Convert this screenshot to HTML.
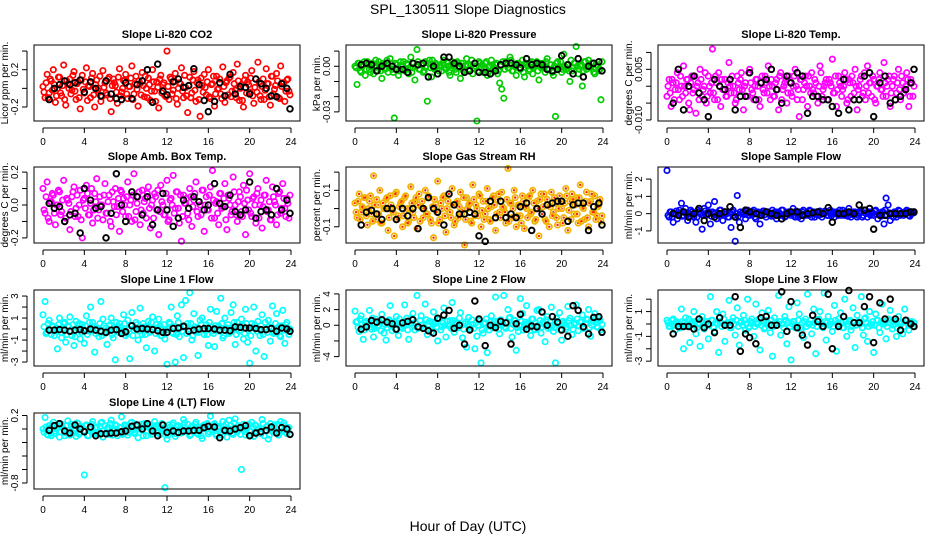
<!DOCTYPE html>
<html><head><meta charset="utf-8"><style>
html,body{margin:0;padding:0;background:#fff;}
svg{display:block;font-family:"Liberation Sans",sans-serif;}
</style></head><body>
<svg id="chart" width="936" height="540" viewBox="0 0 936 540" xmlns="http://www.w3.org/2000/svg">
<rect width="936" height="540" fill="#fff"/>
<text x="468" y="14" text-anchor="middle" font-size="14">SPL_130511  Slope Diagnostics</text>
<text x="468" y="531" text-anchor="middle" font-size="14">Hour of Day (UTC)</text>
</svg>
<script>
const hours=[0,0.2,0.4,0.6,0.8,1,1.2,1.4,1.6,1.8,2,2.2,2.4,2.6,2.8,3,3.2,3.4,3.6,3.8,4,4.2,4.4,4.6,4.8,5,5.2,5.4,5.6,5.8,6,6.2,6.4,6.6,6.8,7,7.2,7.4,7.6,7.8,8,8.2,8.4,8.6,8.8,9,9.2,9.4,9.6,9.8,10,10.2,10.4,10.6,10.8,11,11.2,11.4,11.6,11.8,12,12.2,12.4,12.6,12.8,13,13.2,13.4,13.6,13.8,14,14.2,14.4,14.6,14.8,15,15.2,15.4,15.6,15.8,16,16.2,16.4,16.6,16.8,17,17.2,17.4,17.6,17.8,18,18.2,18.4,18.6,18.8,19,19.2,19.4,19.6,19.8,20,20.2,20.4,20.6,20.8,21,21.2,21.4,21.6,21.8,22,22.2,22.4,22.6,22.8,23,23.2,23.4,23.6,23.8];
const hours2=[0.1,0.3,0.5,0.7,0.9,1.1,1.3,1.5,1.7,1.9,2.1,2.3,2.5,2.7,2.9,3.1,3.3,3.5,3.7,3.9,4.1,4.3,4.5,4.7,4.9,5.1,5.3,5.5,5.7,5.9,6.1,6.3,6.5,6.7,6.9,7.1,7.3,7.5,7.7,7.9,8.1,8.3,8.5,8.7,8.9,9.1,9.3,9.5,9.7,9.9,10.1,10.3,10.5,10.7,10.9,11.1,11.3,11.5,11.7,11.9,12.1,12.3,12.5,12.7,12.9,13.1,13.3,13.5,13.7,13.9,14.1,14.3,14.5,14.7,14.9,15.1,15.3,15.5,15.7,15.9,16.1,16.3,16.5,16.7,16.9,17.1,17.3,17.5,17.7,17.9,18.1,18.3,18.5,18.7,18.9,19.1,19.3,19.5,19.7,19.9,20.1,20.3,20.5,20.7,20.9,21.1,21.3,21.5,21.7,21.9,22.1,22.3,22.5,22.7,22.9,23.1,23.3,23.5,23.7,23.9];
const blackHours=[0.6,1.1,1.6,2.1,2.6,3.1,3.6,4.0,4.6,5.1,5.6,6.1,6.6,7.1,7.6,8.0,8.6,9.1,9.6,10.1,10.6,11.1,11.6,12.0,12.6,13.1,13.6,14.1,14.6,15.1,15.6,16.0,16.6,17.1,17.6,18.1,18.6,19.1,19.6,20.0,20.6,21.1,21.6,22.1,22.6,23.1,23.6,23.9];
const xTicks=[0,4,8,12,16,20,24];

const co2=[.02,-.1,.15,-.05,.08,.2,-.15,.0,.12,-.08,.25,-.18,.05,.1,-.02,.18,-.12,.07,-.22,.14,-.05,.22,.03,-.1,.16,-.2,.09,.0,-.14,.19,.06,-.07,.12,-.25,.1,.03,-.16,.21,-.04,.08,.15,-.11,.02,.24,-.06,.13,-.19,.05,.17,-.09,.0,.11,-.13,.2,-.03,.07,-.21,.14,.04,-.08,.4,-.12,.1,-.02,.16,-.17,.06,.22,-.1,.01,-.26,.12,-.05,.18,-.14,.09,-.3,.03,.15,-.07,.2,-.11,.05,-.19,.13,.0,-.06,.23,-.15,.08,.11,-.09,.17,-.02,.26,-.13,.04,-.2,.14,.07,-.04,.19,-.16,.1,.28,-.08,.02,-.12,.21,.05,-.18,.13,-.01,.16,-.1,.24,.06,-.14,.09,-.03];
const co2B=[-.04,.06,-.1,.1,-.02,.04,-.08,.12,-.05,.03,-.12,.08,.0,-.06,.14,-.03,.05,-.1,.09,-.01,.07,-.13,.02,.11,-.07,.04,-.02,.13,-.09,.01,-.05,.1,-.11,.03,.06,-.04,.12,-.08,.0,.09,-.06,.02,.11,-.12,.05,-.01,.08,-.07,.03,.13,-.1,.04,-.03,.07,-.14,.01,.1,-.05,.06,-.09,.02,.12,-.06,.08,-.11,.0,.05,-.03,.14,-.08,.03,-.1,.09,-.02,.06,-.12,.11,-.04,.01,.07,-.09,.04,.13,-.06,-.01,.1,-.11,.02,.06,-.07,.12,-.03,.05,-.1,.08,.0,-.13,.09,-.05,.04,.11,-.08,.01,-.04,.07,-.12,.1,-.02,.05,-.09,.13,-.06,.03,.08,-.11,.02,.06,-.03,.1,-.07];
const co2Avg=[-.12,.0,.04,.08,.04,.06,.09,-.04,.07,.0,-.08,.08,-.06,-.11,-.12,.06,-.11,.04,.08,.2,-.15,.26,-.03,-.07,.07,.1,.01,.03,.21,.04,-.13,-.25,-.14,.06,-.08,.15,-.06,.02,.01,-.06,.1,.05,.0,-.08,-.09,.05,.0,-.22];
const pres=[0,-.012,.002,-.004,.001,-.006,.003,-.002,.0,-.005,.004,-.003,.001,-.008,.002,-.001,-.004,.005,-.002,-.034,.001,-.006,.003,.0,-.003,.002,-.005,.006,-.001,-.009,.011,-.002,.001,-.004,.003,-.023,.004,-.007,-.001,.002,-.005,.001,-.003,.004,-.002,.0,-.006,.003,.001,-.004,.002,-.008,.0,-.002,.005,-.003,.001,-.005,.002,-.036,.003,-.001,-.004,.002,-.006,.0,.004,-.002,.001,-.005,-.011,-.015,-.021,.003,-.001,.006,-.003,.0,-.006,.002,-.002,.004,-.007,.001,-.003,.002,-.005,.0,.003,-.009,-.001,.002,-.004,.005,-.002,.001,-.006,-.033,.003,.0,-.004,.008,-.002,.001,-.01,-.003,.002,.013,-.005,.0,-.013,.003,-.002,.004,-.001,.002,-.005,.001,-.003,-.022];
const presB=[-.001,.002,-.003,.0,.003,-.002,.001,-.004,.002,-.001,.0,.003,-.003,.001,-.002,.004,-.001,.0,-.004,.002,.001,-.003,.0,.003,-.002,.001,-.001,-.004,.002,.0,.003,-.002,.001,-.003,.0,.002,-.001,.004,-.002,.001,-.003,.0,.002,-.001,.003,-.004,.001,.0,-.002,.003,-.001,.002,-.003,.0,.001,-.002,.004,-.001,.0,-.003,.002,.001,-.002,.003,-.004,.0,.001,-.001,.002,-.003,.0,.003,-.002,.001,-.001,.004,-.003,.0,.002,-.001,.001,-.004,.002,.0,-.002,.003,-.001,.001,-.003,.002,.0,-.001,.003,-.002,.001,-.004,.0,.002,-.001,.003,-.002,.0,.001,-.003,.004,-.001,.002,.0,-.002,.001,-.003,.003,.0,-.001,.002,-.004,.001,.0,-.002,.003];
const presAvg=[.001,.002,.001,-.003,.0,.002,.0,-.002,-.002,-.004,.002,.001,.002,-.007,.0,-.005,.006,.006,.002,.0,-.004,-.003,.002,-.004,-.004,-.005,-.003,.001,.002,.002,.001,-.001,.005,.001,.002,.001,-.002,-.003,-.002,.007,.001,-.005,.005,-.007,.0,.002,.003,-.003];
const temp=[-.003,.002,-.006,.001,-.001,.004,-.004,.0,.006,-.002,.002,-.007,.003,-.001,-.008,.001,.005,-.003,.0,-.005,.003,-.002,.011,-.004,.001,.004,-.006,-.001,.002,-.003,.007,-.002,.0,-.005,.003,-.001,.004,-.007,.001,-.003,.005,-.001,-.004,.002,.0,-.006,.003,-.002,.001,.006,-.004,.0,-.003,.002,-.007,.004,-.001,.001,-.005,.003,-.002,.0,.005,-.004,-.009,.002,-.001,.003,-.006,.0,.004,-.002,.001,-.005,.006,-.003,.0,.002,-.004,.001,.008,-.002,-.006,.003,.0,-.001,.004,-.005,.002,-.003,.001,.005,-.007,.0,.003,-.002,-.004,.006,.001,-.003,.002,-.005,.0,.004,-.001,.007,-.003,.002,-.006,.0,.003,-.002,.005,-.004,.001,-.001,.004,-.006,.002,-.003];
const tempB=[.0,-.002,.002,-.004,.001,-.001,.003,-.003,.0,.002,-.005,.001,-.002,.003,.0,-.004,.002,-.001,.004,-.003,.0,.001,-.002,.003,-.004,.0,.002,-.001,-.003,.001,.0,.003,-.002,-.004,.001,.002,-.001,.0,-.003,.004,.001,-.002,.0,.002,-.004,.001,-.001,.003,-.002,.0,.002,-.003,.001,-.001,.003,-.004,.0,.002,-.002,.001,-.003,.003,.0,-.001,.002,-.004,.001,.0,.003,-.002,-.001,.002,-.003,.0,.004,-.001,.001,-.004,.002,.0,-.002,.003,-.001,.001,-.003,.0,.002,-.004,.001,.003,-.002,.0,-.001,.002,-.003,.004,.0,-.002,.001,.003,-.004,.0,.002,-.001,-.003,.001,.0,.003,-.002,.002,-.004,.001,-.001,.003,-.002,.0,.002,-.003,.001,.0];
const tempAvg=[-.005,.005,-.007,.0,.003,-.002,-.004,-.009,.002,.0,-.001,.002,-.007,-.003,-.003,.004,-.004,.001,.002,.005,-.001,-.005,.003,.001,.004,.003,-.008,-.003,-.003,-.004,-.004,-.006,-.008,.002,-.007,-.004,-.004,.003,.004,-.009,.001,.003,-.005,-.004,-.003,-.001,.001,.005];
const box=[.1,-.05,.14,-.1,.02,.06,-.12,.0,.08,-.04,.15,-.08,.03,-.15,.05,.11,-.02,-.07,.09,-.2,.04,.12,-.06,.01,-.11,.07,.16,-.03,.0,-.09,.13,-.05,.06,-.13,.02,.1,-.01,-.16,.08,.04,-.07,.14,.0,-.1,.19,-.04,.05,-.12,.09,.02,-.08,.11,-.14,.03,.07,-.03,-.18,.12,.0,-.06,.15,-.09,.04,.18,-.02,.08,-.11,-.22,.06,.01,-.05,.1,-.13,.03,.14,-.07,.0,.09,-.16,.05,-.03,.11,.21,-.08,.02,-.12,.07,-.01,.13,-.15,.04,-.06,.17,.0,-.1,.08,-.04,.12,-.18,.03,.19,-.07,.05,-.11,.1,.0,-.14,.06,.15,-.03,-.09,.11,.02,-.12,.07,-.05,.13,-.02,.04,-.08];
const boxB=[-.03,.05,-.08,.02,.07,-.05,.0,.09,-.06,.03,-.1,.04,.01,-.04,.08,-.07,.06,.0,-.09,.03,-.02,.07,-.06,.1,-.03,.02,-.08,.05,.0,.06,-.05,.02,-.1,.08,-.01,-.06,.04,.09,-.04,.0,.05,-.07,.03,.06,-.09,.01,.08,-.03,-.05,.04,.07,-.02,.0,-.08,.05,.09,-.04,.02,-.06,.07,-.1,.03,.0,-.05,.08,-.02,.06,-.07,.01,.04,-.09,.05,-.01,.07,-.04,.02,-.06,.09,.0,-.03,.06,-.08,.03,.01,-.05,.07,-.02,.04,-.09,.06,.0,-.04,.08,-.06,.02,.05,-.07,.01,.09,-.03,-.05,.04,.0,.07,-.08,.03,-.01,.06,-.04,.02,-.09,.05,.0,-.06,.08,-.02,.04,-.07,.01,.06];
const boxAvg=[.01,-.02,-.01,-.1,-.06,-.05,-.17,.1,.03,-.02,-.01,-.2,-.05,.19,.0,-.1,.08,.05,-.06,.05,-.12,-.03,.07,-.03,-.13,-.08,.03,-.02,.05,.02,-.03,.0,.13,.01,-.01,.06,-.04,-.06,-.03,.14,-.08,-.04,-.03,-.06,.1,-.03,.03,-.05];
const rh=[.03,-.05,.08,-.02,.0,.06,-.09,.04,-.03,.18,-.06,.02,.1,-.08,.0,.05,-.12,.07,-.01,-.15,.09,-.04,.03,-.1,.06,.0,-.07,.12,-.02,.04,-.11,.08,.01,-.05,.1,-.03,.06,-.08,-.16,.02,.15,-.06,.0,.07,-.13,.04,-.02,.11,-.09,.03,-.05,.09,-.01,-.2,.06,.02,-.07,.13,-.04,.0,.08,-.1,.04,-.03,.11,-.06,.01,.07,-.12,.05,-.02,.09,.0,-.08,.22,.03,-.05,.1,-.1,.02,-.04,.07,-.11,.0,.06,-.03,.1,-.07,.04,-.15,.08,.01,-.06,.05,-.1,.09,-.02,.03,-.09,.07,.0,-.05,.11,-.12,.04,.08,-.03,.06,-.08,.13,.01,-.06,.09,-.1,.04,-.02,.07,-.04,.02,-.07];
const rhB=[-.02,.04,-.06,.01,.06,-.04,.0,.07,-.07,.02,.05,-.03,-.08,.03,.0,.06,-.05,.02,-.02,.08,-.06,.01,.04,-.04,.07,-.08,.0,.03,-.05,.06,.02,-.07,.04,.0,-.03,.07,-.06,.01,.05,-.02,-.08,.03,.06,-.04,.0,.08,-.05,.02,-.07,.04,.01,-.03,.06,-.06,.0,.03,-.08,.05,.02,-.04,.07,-.01,-.06,.04,.0,-.07,.06,.02,-.03,.08,-.05,.01,-.02,.05,-.07,.03,.0,.06,-.04,.02,-.08,.04,.01,-.05,.07,-.02,.03,-.06,.0,.05,-.03,.08,-.07,.02,.01,-.04,.06,-.05,.0,.04,-.08,.03,.07,-.01,-.06,.05,.02,-.03,.06,-.07,.0,.04,-.05,.03,.08,-.02,-.06,.01,.05,-.04];
const rhAvg=[-.09,-.02,-.01,-.03,-.06,.0,.0,-.06,.0,-.04,.0,-.11,.0,.06,.0,-.02,-.09,.08,.02,-.03,-.03,-.02,-.03,-.15,-.18,.04,-.05,.04,-.05,-.03,-.05,.01,.03,-.12,.0,-.03,.02,.03,.04,.04,-.07,.02,.03,.03,-.12,.01,.03,-.09];
const sflow=[2.5,-.2,.1,-.5,.0,-.3,.2,.6,-.1,.3,-.4,.0,.1,-.2,-.5,.2,.0,-.9,.3,-.1,.5,-.6,.1,.7,-.3,.0,.2,-.4,.1,.0,-.2,-.8,.2,-1.6,1.05,-.5,.0,.1,-.3,.2,-.1,.0,.2,-.3,.1,-.6,.0,.15,-.2,.1,-.1,.2,.0,-.3,.1,-.1,.2,-.2,.0,.1,-.1,.3,-.2,.0,.1,-.3,.2,-.1,.0,.2,-.2,.1,.0,-.1,.15,-.2,.0,.1,-.1,.2,.0,-.2,.1,-.1,.0,.2,-.1,.0,.3,-.2,.0,.1,-.2,.0,.1,-.1,.2,-.2,.0,.1,-.1,.2,-.3,.0,.1,-.6,.9,.5,-.4,.0,.1,-.2,.2,-.1,.0,.1,.2,-.1,.0,.1];
const sflowB=[-.1,.1,-.2,.0,.15,-.1,.05,-.15,.1,-.05,.0,.2,-.1,.05,-.2,.1,.0,-.1,.15,-.05,.1,-.15,.0,.05,-.1,.2,-.05,.0,.1,-.2,.05,.1,-.1,.0,-.15,.1,.05,-.05,.15,-.1,.0,.1,-.2,.05,.0,-.1,.15,-.05,.1,.0,-.15,.05,.1,-.1,.0,.2,-.05,-.15,.1,.0,.05,-.1,.15,-.2,.0,.1,-.05,.05,-.1,.15,.0,-.2,.1,.05,-.05,.0,.15,-.1,.05,-.15,.1,.0,-.05,.2,-.1,.0,.1,-.15,.05,-.05,.1,.0,-.1,.15,-.2,.05,.0,.1,-.1,.05,.15,-.05,.0,-.15,.1,.2,-.1,.05,.0,-.2,.1,-.05,.15,.0,-.1,.05,.1,-.15,.0,.05];
const sflowAvg=[.0,-.1,.1,-.2,.0,.3,-.4,.0,-.2,.0,.1,.4,-.2,-.8,.2,.1,.0,-.1,.1,.0,-.1,-.3,.0,.1,.1,-.1,.0,.05,.1,.0,.35,-.5,.0,.0,.1,.0,.5,.2,.3,-.9,-.1,-.1,.0,.0,.0,.0,.1,.1];
const line1=[1.3,2.5,-.3,.8,-.5,.2,.0,-1.8,1.0,-.8,.5,-1.2,.3,1.1,-.6,-1.5,.7,.0,-.9,.4,-1.3,1.2,-.2,2.0,.6,-2.1,.1,-.7,2.5,.9,-.4,-1.4,.3,1.0,-.8,-2.8,.2,.5,-.3,1.3,-.6,.8,-2.7,1.5,-.1,.6,-1.0,1.9,-.5,.2,-1.7,.7,-.2,1.1,-2.0,.4,.9,-.6,.0,-.9,-3.2,.6,2.0,-.4,-3.0,1.2,-.7,2.2,-2.6,2.6,.5,3.3,-1.0,1.4,-.3,-2.4,.8,1.0,-.5,.4,-1.5,1.8,-.2,-1.6,1.6,.3,2.8,-.8,1.0,.1,-.4,1.5,2.2,-1.4,.6,-.2,.9,-.9,1.8,-1.2,-3.1,.5,2.0,-2.0,.7,-.6,1.3,-2.5,.0,.8,-1.1,2.1,-.3,1.4,.2,-.7,1.7,-1.3,.6,-.5];
const line1B=[.2,-.4,.5,-.1,.3,-.6,.1,.4,-.3,.0,.6,-.5,.2,-.2,.4,-.7,.1,.5,-.3,.0,.3,-.5,.6,-.1,.2,-.4,.0,.5,-.6,.3,.1,-.2,.4,-.5,.0,.6,-.3,.2,-.1,.5,-.4,.0,.3,-.6,.1,.4,-.2,.0,.5,-.5,.2,-.3,.6,.0,-.4,.1,.3,-.6,.4,-.1,.0,.5,-.3,.2,-.5,.6,.1,-.2,.3,-.4,.0,.5,-.6,.2,.1,-.3,.4,-.1,.0,-.5,.6,.2,-.4,.3,.0,-.2,.5,-.6,.1,.4,-.3,.0,.6,-.5,.2,-.1,.3,-.4,.5,.0,-.6,.1,.4,-.2,.0,.3,-.5,.6,-.3,.2,.1,-.4,.5,.0,-.6,.3,-.1,.4,-.2,.0];
const line1Avg=[-.1,-.1,-.05,-.1,-.2,-.1,-.05,-.15,.0,-.1,-.2,-.3,-.1,-.05,-.4,-.25,.3,.0,.05,.0,-.05,-.15,-.3,-.3,.05,.1,.25,-.2,-.1,.0,.05,.05,.0,-.1,-.1,-.15,.2,.15,.1,.1,.05,-.05,-.05,.05,-.2,.1,.0,-.2];
const line2=[1.8,.5,-.8,1.2,-1.8,.3,.0,1.9,-.5,-1.5,.8,-.2,.4,1.4,-1.0,-1.9,.6,2.5,-.7,.1,1.1,-1.3,.3,-.4,2.6,.9,-1.8,.2,1.5,-.6,3.8,-.3,1.2,.0,2.7,-1.2,.5,-.9,1.7,.3,-2.0,.8,-.2,2.2,-1.5,.0,.6,2.9,-.9,.4,-.3,1.6,-1.6,.2,-2.8,1.0,-.5,.1,-3.0,-1.4,.7,-4.8,-1.0,.3,-3.5,-.6,1.2,-.2,3.6,.5,-1.1,.0,3.8,-.4,2.0,1.0,-1.5,.6,-3.2,-.8,3.4,1.5,-.3,2.5,.2,-1.3,.8,-.6,1.9,2.0,-1.0,.4,-2.1,1.1,-.2,2.3,-.8,-4.8,.5,1.6,-1.9,.3,-.5,2.4,.9,-1.2,.1,2.6,-.7,.4,1.3,-.3,.8,2.0,-1.4,.6,1.5,-.2,.9,-.6];
const line2B=[.4,-.3,.8,.1,-.6,.5,.2,-.2,.9,-.4,.3,.0,-.7,.6,.1,-.3,.7,-.1,.4,-.5,.2,.8,-.2,.0,.5,-.6,.3,.9,-.1,.2,-.4,.6,.0,-.3,.7,.1,-.5,.4,.2,-.2,.8,-.6,.3,.0,.5,-.1,-.4,.6,.2,-.3,.9,.0,-.5,.4,.1,-.2,.7,-.4,.3,.0,.6,-.6,.2,.8,-.1,.4,-.3,.5,.0,-.5,.7,.2,-.2,.3,.9,-.4,.1,.6,-.3,.0,.5,-.6,.4,.2,-.1,.8,-.5,.3,.0,.6,-.2,.1,.7,-.4,.4,.0,-.3,.9,.2,-.6,.5,.1,-.2,.6,.0,-.5,.3,.8,-.1,.4,-.4,.2,.7,-.3,.0,.5,.3,-.2,.6,.1];
const line2Avg=[-.5,-.2,.6,.4,.7,.4,.2,-.5,.3,.5,.7,-.2,-.4,-.7,-1.0,.9,1.3,1.9,-.4,.0,-2.4,-.6,3.1,.8,-2.6,.0,-.3,.5,.3,-2.4,.2,1.4,-.5,-.1,-.2,1.7,.0,1.1,.4,-.6,-1.4,2.5,1.9,-.2,-1.1,1.0,1.1,-.9];
const line3=[.3,-.2,.0,.4,-.5,.1,-.3,1.2,-2.0,.5,-.1,-1.5,.2,1.0,-.8,.0,-1.8,.6,-.4,.2,-1.2,2.2,.3,-.6,1.0,-2.3,.1,.8,-1.4,.0,1.9,-.3,.5,-.9,1.3,-1.7,.2,.7,-.5,2.0,-.2,.4,-1.0,1.6,.0,-2.1,.9,-.4,.3,1.1,-.7,-2.6,.5,.1,2.3,-.9,.0,.6,-1.6,1.4,-2.9,.2,-.3,1.7,.8,-.5,-1.1,.4,2.4,.0,-.8,1.2,-2.4,.3,1.0,-.2,2.5,-1.3,.6,.0,-.6,1.5,-2.2,.4,.9,-.3,2.0,-1.0,.2,-.5,1.3,-1.9,.7,.0,2.2,-.9,.5,-1.4,1.0,-.1,-2.3,.8,.3,-.7,1.6,.0,-1.2,.4,1.1,-.4,.2,-1.0,.6,.0,-.8,1.2,.3,-.5,.1,-.2];
const line3B=[.1,-.2,.3,-.1,.2,.0,-.3,.2,.1,-.2,.4,-.1,.0,.2,-.3,.1,.3,-.2,.0,.2,-.1,.3,-.3,.1,.0,.2,-.2,.4,-.1,.1,-.3,.2,.0,.3,-.2,.1,-.1,.3,.0,-.3,.2,.1,-.2,.0,.4,-.1,.2,-.3,.1,.0,.3,-.2,.1,-.1,.2,.0,-.3,.3,.1,-.2,.0,.2,-.1,.3,-.3,.1,.2,-.2,.0,.3,-.1,.1,-.2,.4,.0,-.3,.2,.1,-.1,.2,-.2,.3,.0,-.1,.1,-.3,.2,.0,.3,-.2,.1,-.1,.2,.0,-.3,.4,.1,-.2,.0,.2,-.1,.3,-.3,.1,.0,.2,-.2,.1,.3,-.1,.0,-.3,.2,.1,-.2,.3,.0,-.1,.2,.1];
const line3Avg=[-.8,-.2,-.2,-.2,-.4,.4,-.3,.0,-.7,.5,-.1,-.1,2.2,-2.2,-.8,-1.1,-1.6,.5,.6,-.1,-.1,2.6,-.6,1.8,-.3,-.9,-1.7,.7,.2,-.2,2.4,-2.0,-.2,.6,2.7,.1,.1,1.4,2.2,-1.5,1.7,.4,2.0,.4,-.5,.3,.0,-.2];
const line4=[.0,.17,-.08,.05,-.1,.1,-.03,.02,-.12,.07,.0,-.06,.12,-.09,.04,-.02,-.11,.08,-.05,.03,-.68,.06,-.1,.0,.11,-.07,.03,-.04,.09,-.12,.05,.0,-.08,.13,-.03,.06,-.1,.02,.18,-.06,.04,-.09,.0,.1,-.05,.07,-.13,.02,-.02,.08,-.1,.04,.0,-.07,.11,-.03,.05,-.08,.01,-.87,-.15,.06,-.04,.09,-.11,.03,.0,-.06,.14,-.02,.07,-.1,.04,-.05,.1,-.08,.02,-.14,.06,.0,-.07,.19,-.03,.08,-.1,.04,-.05,.11,.0,-.12,.13,.05,-.08,.15,-.04,.02,-.6,.07,-.09,.03,-.02,.1,-.11,.05,.0,-.06,.14,-.1,.03,-.15,.08,-.04,.06,.0,-.09,.11,-.03,.05,-.07,.02];
const line4B=[-.05,.03,-.09,.01,.06,-.07,.0,.08,-.04,.02,-.1,.05,-.02,.07,-.06,.01,.09,-.08,.03,-.03,.05,-.1,.0,.07,-.05,.02,-.07,.04,.1,-.02,-.06,.03,.08,-.09,.0,.05,-.04,.02,-.08,.06,.01,-.05,.09,-.02,-.07,.04,.0,.07,-.1,.03,-.03,.06,-.08,.01,.05,-.06,.02,.08,-.04,.0,-.09,.03,.06,-.02,-.07,.05,.01,-.05,.09,-.03,.0,-.08,.04,.07,-.06,.02,-.1,.05,.0,.08,-.04,-.02,.06,-.07,.03,.01,-.09,.04,.07,-.03,.0,-.06,.09,-.02,.05,-.08,.02,.0,-.05,.07,-.1,.03,.06,-.04,.01,-.07,.08,-.02,.04,-.09,.0,.05,-.03,.07,-.06,.02,.09,-.05,.01,-.08];
const line4Avg=[-.02,.05,.08,-.03,-.06,.06,.0,-.04,.03,-.1,-.07,-.07,-.06,-.06,-.04,-.03,.04,.06,.0,.08,-.03,-.1,.06,-.05,-.03,-.05,-.03,-.03,-.02,-.02,.02,.04,.03,-.13,-.02,-.03,.0,.02,.05,-.1,-.06,-.04,-.02,.03,-.06,.02,.0,-.08];

const titles=["Slope Li-820 CO2","Slope Li-820 Pressure","Slope Li-820 Temp.","Slope Amb. Box Temp.","Slope Gas Stream RH","Slope Sample Flow","Slope Line 1 Flow","Slope Line 2 Flow","Slope Line 3 Flow","Slope Line 4 (LT) Flow"];
const yTitles=["Licor ppm per min.","kPa per min.","degrees C per min.","degrees C per min.","percent per min.","ml/min per min.","ml/min per min.","ml/min per min.","ml/min per min.","ml/min per min."];
const yTickVals=[[-0.2,0,0.2,0.4],[-0.03,-0.02,-0.01,0,0.01],[-0.01,-0.005,0,0.005,0.01],[-0.2,-0.1,0,0.1,0.2],[-0.1,0,0.1,0.2],[-1,0,1,2],[-3,-2,-1,0,1,2,3],[-4,-2,0,2,4],[-3,-2,-1,0,1,2],[-0.8,-0.6,-0.4,-0.2,0,0.2]];
const yTickLabels=[["-0.2","","0.2",""],["-0.03","","","0.00",""],["-0.010","","","0.005",""],["-0.2","","0.0","","0.2"],["-0.1","","0.1",""],["-1","0","1","2"],["-3","","-1","","1","","3"],["-4","","0","2","4"],["-3","","-1","","1",""],["-0.8","","","","","0.2"]];
const yMin=[-0.35,-0.036,-0.0103,-0.231,-0.189,-1.7,-3.36,-5.2,-3.39,-0.889];
const yMax=[0.465,0.014,0.0122,0.231,0.228,2.7,3.55,4.5,2.74,0.237];
const series=[co2,pres,temp,box,rh,sflow,line1,line2,line3,line4];
const seriesB=[co2B,presB,tempB,boxB,rhB,sflowB,line1B,line2B,line3B,line4B];
const avgSeries=[co2Avg,presAvg,tempAvg,boxAvg,rhAvg,sflowAvg,line1Avg,line2Avg,line3Avg,line4Avg];
const colors=["#ff0000","#00cc00","#ff00ff","#ff00ff","#f0b400","#0000ff","#00ffff","#00ffff","#00ffff","#00ffff"];
const names=["co2","pressure","li820-temp","amb-box-temp","gas-stream-rh","sample-flow","line1-flow","line2-flow","line3-flow","line4-flow"];

const NS="http://www.w3.org/2000/svg";
const svg=document.getElementById('chart');
function mk(tag,attrs,parent){const e=document.createElementNS(NS,tag);for(const k in attrs)e.setAttribute(k,attrs[k]);(parent||svg).appendChild(e);return e;}
const colLeft=[34,346,658], rowTop=[45,167,290,413], W=266, H=76;
const xMin=-0.87,xMax=24.87;
for(let p=0;p<10;p++){
  const L=colLeft[p%3], T=rowTop[Math.floor(p/3)], B=T+H, R=L+W;
  const g=mk('g',{});
  
  
  const xs=v=>L+(v-xMin)/(xMax-xMin)*W;
  const ys=v=>B-(v-yMin[p])/(yMax[p]-yMin[p])*H;
  const cg=mk('g',{},g);
  
  
  const drawPt=(hx,v)=>{
    const c=mk('circle',{cx:xs(hx),cy:ys(v),r:2.7,fill:'none',stroke:colors[p],'stroke-width':1.7},cg);
    
    
    if(p===4){mk('circle',{cx:xs(hx),cy:ys(v),r:1.2,fill:'#ff2000'},cg);}
  };
  series[p].forEach((v,i)=>drawPt(hours[i],v));
  seriesB[p].forEach((v,i)=>drawPt(hours2[i],v));
  const bg=mk('g',{},g);
  
  
  avgSeries[p].forEach((v,i)=>{
    const c=mk('circle',{cx:xs(blackHours[i]),cy:ys(v),r:2.8,fill:'none',stroke:'#000','stroke-width':1.9},bg);
    
    
  });
  const fr=mk('rect',{x:L,y:T,width:W,height:H,fill:'none',stroke:'#000','stroke-width':1},g);
  
  
  const tt=mk('text',{x:(L+R)/2,y:T-7,'text-anchor':'middle','font-size':11,'font-weight':'bold'},g);
  tt.textContent=titles[p];
  
  
  const xa=mk('g',{},g);
  
  
  mk('line',{x1:xs(xTicks[0]),x2:xs(xTicks[xTicks.length-1]),y1:B+7,y2:B+7,stroke:'#000'},xa);
  xTicks.forEach(t=>{
    mk('line',{x1:xs(t),x2:xs(t),y1:B+7,y2:B+12,stroke:'#000'},xa);
    const lt=mk('text',{x:xs(t),y:B+24,'text-anchor':'middle','font-size':10},xa);
    lt.textContent=t;
    
    
  });
  const ya=mk('g',{},g);
  
  
  const tv=yTickVals[p].filter(v=>v>=yMin[p]&&v<=yMax[p]);
  mk('line',{x1:L-7,x2:L-7,y1:ys(Math.min(...tv)),y2:ys(Math.max(...tv)),stroke:'#000'},ya);
  yTickVals[p].forEach((t,i)=>{
    if(t<yMin[p]||t>yMax[p])return;
    mk('line',{x1:L-12,x2:L-7,y1:ys(t),y2:ys(t),stroke:'#000'},ya);
    if(yTickLabels[p][i]){
      const lt=mk('text',{x:L-16,y:ys(t),'text-anchor':'middle','font-size':10,transform:`rotate(-90 ${L-16} ${ys(t)})`},ya);
      lt.textContent=yTickLabels[p][i];
      
      
    }
  });
  const yt=mk('text',{x:L-26,y:(T+B)/2,'text-anchor':'middle','font-size':10,transform:`rotate(-90 ${L-26} ${(T+B)/2})`},g);
  yt.textContent=yTitles[p];
  
  
}
</script>
</body></html>
